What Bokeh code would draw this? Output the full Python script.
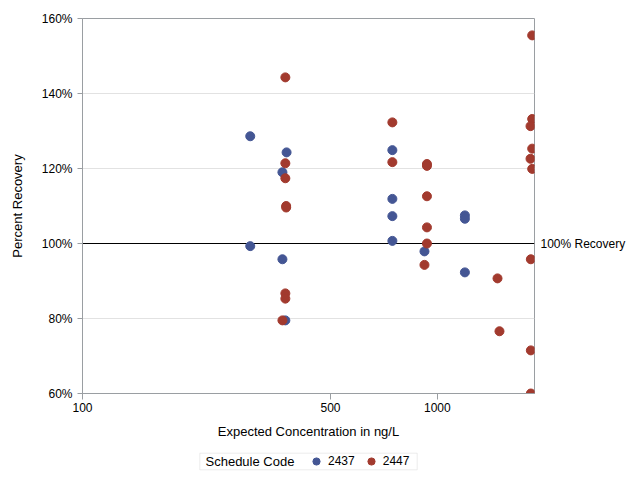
from bokeh.plotting import figure
from bokeh.layouts import column
from bokeh.models import (Range1d, FixedTicker, PrintfTickFormatter, Span, LinearAxis,
                          Legend, LegendItem, ColumnDataSource, BoxAnnotation, Label)
from bokeh.embed import file_html
from bokeh.resources import INLINE

# ---- data ----
conc_2437 = [297, 297, 366, 376, 366, 373, 747, 747, 747, 747, 920, 1196, 1196, 1196]
rec_2437 = [128.6, 99.3, 119.0, 124.3, 95.8, 79.5, 124.9, 111.9, 107.3, 100.7, 97.9, 107.5, 106.6, 92.3]

conc_2447 = [373, 373, 373, 375, 375, 373, 373, 366, 747, 747, 935, 935, 935, 935, 935, 920,
             1478, 1497, 1851, 1851, 1831, 1851, 1831, 1851, 1835, 1835, 1835]
rec_2447 = [144.3, 121.4, 117.4, 110.0, 109.6, 86.7, 85.3, 79.5, 132.3, 121.7, 121.2, 120.7,
            112.6, 104.3, 100.0, 94.3, 90.7, 76.6, 155.5, 133.2, 131.3, 125.3, 122.6, 119.9,
            95.8, 71.5, 60.0]

x_ticks = [100, 500, 1000]
y_ticks = [60, 80, 100, 120, 140, 160]
x_min, x_max = 100, 1879
y_min, y_max = 60, 160
ref_value = 100
ref_label = "100% Recovery"
legend_title = "Schedule Code"
series_names = ["2437", "2447"]
colors = ["#445694", "#A23A2E"]

FONT = "Liberation Sans"
AXIS_GRAY = "#9a9ea2"

p = figure(x_axis_type="log", x_range=Range1d(x_min, x_max), y_range=Range1d(y_min, y_max),
           frame_width=452, frame_height=375,
           min_border_left=82, min_border_right=4, min_border_top=18, min_border_bottom=0,
           output_backend="svg", toolbar_location=None)

p.outline_line_color = AXIS_GRAY
p.xgrid.visible = False
p.ygrid.grid_line_color = "#e2e2e2"
p.ygrid.ticker = FixedTicker(ticks=y_ticks)

# axes
p.xaxis.ticker = FixedTicker(ticks=x_ticks)
p.xaxis.formatter = PrintfTickFormatter(format="%d")
p.yaxis.ticker = FixedTicker(ticks=y_ticks)
p.yaxis.formatter = PrintfTickFormatter(format="%d%%")
p.xaxis.axis_label = "Expected Concentration in ng/L"
p.yaxis.axis_label = "Percent Recovery"
for ax in (p.xaxis, p.yaxis):
    ax.axis_line_color = AXIS_GRAY
    ax.major_tick_line_color = AXIS_GRAY
    ax.minor_tick_line_color = None
    ax.major_tick_in = 0
    ax.major_tick_out = 5
    ax.major_label_text_font = FONT
    ax.major_label_text_font_size = "12px"
    ax.major_label_text_color = "black"
    ax.axis_label_text_font = FONT
    ax.axis_label_text_font_size = "13px"
    ax.axis_label_text_font_style = "normal"
    ax.axis_label_text_color = "black"
p.xaxis.major_tick_out = 6
p.xaxis.major_label_standoff = 3
p.xaxis.axis_label_standoff = 9
p.yaxis.major_label_standoff = 5
p.yaxis.axis_label_standoff = 14

# reference line and its label (label via a right-side axis with one tick)
span = Span(location=ref_value, dimension="width", line_color="black", line_width=1, level="underlay")
p.add_layout(span)
ref_axis = LinearAxis(ticker=FixedTicker(ticks=[ref_value]),
                      major_label_overrides={ref_value: ref_label})
ref_axis.axis_line_color = None
ref_axis.major_tick_line_color = None
ref_axis.minor_tick_line_color = None
ref_axis.major_tick_out = 0
ref_axis.major_tick_in = 0
ref_axis.major_label_standoff = 6
ref_axis.major_label_text_font = FONT
ref_axis.major_label_text_font_size = "12px"
ref_axis.major_label_text_color = "black"
p.add_layout(ref_axis, "right")

# points
src1 = ColumnDataSource(dict(x=conc_2437, y=rec_2437))
src2 = ColumnDataSource(dict(x=conc_2447, y=rec_2447))
p.scatter("x", "y", source=src1, size=9, fill_color=colors[0], line_color=colors[0])
p.scatter("x", "y", source=src2, size=9, fill_color=colors[1], line_color=colors[1])

# ---- legend strip below the chart (pixel-based coordinates, frame aligned with chart) ----
lg = figure(frame_width=452, frame_height=36, x_range=Range1d(0, 452), y_range=Range1d(0, 36),
            min_border=0, output_backend="svg", toolbar_location=None)
lg.axis.visible = False
lg.grid.visible = False
lg.outline_line_color = None
# key renderers (same data; they fall outside this strip's ranges, only their legend keys show)
k1 = lg.scatter("x", "y", source=src1, fill_color=colors[0], line_color=colors[0])
k2 = lg.scatter("x", "y", source=src2, fill_color=colors[1], line_color=colors[1])

lg.add_layout(BoxAnnotation(left=117.3, right=334.7, bottom=7.7, top=24.3,
                            fill_color=None, line_color="#c4c4c4", line_width=1))
lg.add_layout(Label(x=123, y=16, text=legend_title, text_baseline="middle", text_align="left",
                    text_font=FONT, text_font_size="13px", text_color="black"))

legend = Legend(items=[LegendItem(label=series_names[0], renderers=[k1]),
                       LegendItem(label=series_names[1], renderers=[k2])],
                orientation="horizontal", location=(307, 7))
legend.label_text_font = FONT
legend.label_text_font_size = "12px"
legend.label_text_color = "black"
legend.border_line_color = None
legend.background_fill_alpha = 0
legend.padding = 0
legend.spacing = 7
legend.glyph_width = 18
legend.glyph_height = 18
legend.label_height = 18
legend.label_width = 20
legend.label_standoff = 3
legend.margin = 0
lg.add_layout(legend)

layout = column(p, lg, spacing=0)
open("out.html", "w").write(file_html(layout, INLINE))
